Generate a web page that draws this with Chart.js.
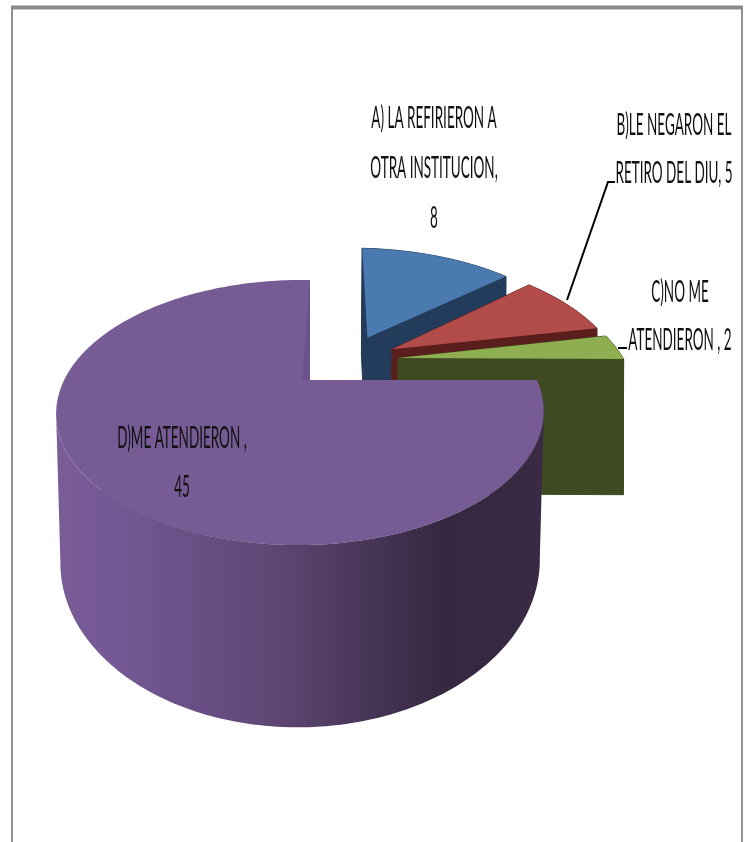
<!DOCTYPE html>
<html lang="es">
<head>
<meta charset="utf-8">
<title>Atención al retiro del DIU</title>
<script src="https://cdn.jsdelivr.net/npm/chart.js@4/dist/chart.umd.min.js"></script>
<style>
  html, body { margin: 0; padding: 0; background: #ffffff; }
  canvas { display: block; }
</style>
</head>
<body>
<canvas id="pieChart" width="750" height="842"></canvas>
<script>
// Chart data
const categories = [
  'A) LA REFIRIERON A OTRA INSTITUCION',
  'B)LE NEGARON EL RETIRO DEL DIU',
  'C)NO ME ATENDIERON ',
  'D)ME ATENDIERON '
];
const values = [8, 5, 2, 45];

// Slice colours
const topColors = ['#4a7ab0', '#b14c48', '#8fae52', '#775b94'];
const wallColors = ['#233c5c', '#5a1f1d', '#404a22', '#775b94'];

// How the words of each label are split over its rows
const rowWords = [[4, 2, 1], [3, 4], [2, 3], [3, 1]];

// Label placement: centre x and the baseline of each row
const labelBoxes = [
  { x: 434, rows: [128, 178, 228] },
  { x: 674, rows: [135, 183] },
  { x: 680, rows: [302, 350] },
  { x: 182, rows: [448, 497] }
];

// Leader lines for the two labels that need one
const leaders = [
  [[567, 300], [608, 182], [615, 182]],
  [[618, 348], [627, 348]]
];

// Perspective of the pie, in units of one radius from the purple slice's apex
const topPlane = { ox: 310, oy: 380, a: 236, b: 124.5, extra: 0 };
const bottomPlane = { ox: 310, oy: 521, a: 232, b: 155.6, extra: 0.025 };
const depthP = 0.245;
const depthQ = 0.04;
const explodeX = 0.23;
const explodeY = 0.23;
const explodedRadius = 1.07;
const explodedLean = 7.5;

function project(plane, s, x, y) {
  const w = 1 + depthP * y + depthQ * x;
  return [plane.ox + (plane.a * x + s.lean * y) / w, plane.oy - plane.b * y / w];
}

// Angles here are clockwise from 12 o'clock, as the arc elements start there
function sliceGeometry(el, index) {
  const props = el.getProps(['startAngle', 'endAngle'], true);
  const start = props.startAngle + Math.PI / 2;
  const end = props.endAngle + Math.PI / 2;
  const mid = (start + end) / 2;
  const last = index === values.length - 1;
  return {
    start: start,
    end: end,
    lean: last ? 0 : explodedLean,
    radius: last ? 1 : explodedRadius,
    cx: last ? 0 : explodeX * (Math.sin(mid) + Math.SQRT1_2),
    cy: last ? 0 : explodeY * (Math.cos(mid) + Math.SQRT1_2)
  };
}

function rimPoints(plane, s) {
  const pts = [];
  const radius = s.radius + (s.lean ? plane.extra : 0);
  const steps = Math.max(6, Math.ceil((s.end - s.start) / 0.02));
  for (let i = 0; i <= steps; i++) {
    const t = s.start + (s.end - s.start) * i / steps;
    pts.push(project(plane, s, s.cx + radius * Math.sin(t), s.cy + radius * Math.cos(t)));
  }
  return pts;
}

function fillPolygon(ctx, pts, fill) {
  ctx.beginPath();
  pts.forEach((p, i) => (i ? ctx.lineTo(p[0], p[1]) : ctx.moveTo(p[0], p[1])));
  ctx.closePath();
  ctx.fillStyle = fill;
  ctx.fill();
}

// Index of the rim point furthest along x, to the left or right
function extremeIndex(rim, sign) {
  let best = 0;
  rim.forEach((p, i) => {
    if (p[0] * sign > rim[best][0] * sign) best = i;
  });
  return best;
}

function drawSlice(ctx, el, index) {
  const s = sliceGeometry(el, index);
  const topRim = rimPoints(topPlane, s);
  const bottomRim = rimPoints(bottomPlane, s);
  const topApex = project(topPlane, s, s.cx, s.cy);
  const bottomApex = project(bottomPlane, s, s.cx, s.cy);
  const last = index === values.length - 1;

  if (last) {
    // The big slice has a shaded outer wall, only its front half shows
    const shade = ctx.createLinearGradient(60, 0, 541, 0);
    shade.addColorStop(0, '#7a5c97');
    shade.addColorStop(0.12, '#745893');
    shade.addColorStop(0.45, '#5e4674');
    shade.addColorStop(0.8, '#34273f');
    shade.addColorStop(1, '#3a2a45');
    const frontTop = topRim.slice(extremeIndex(topRim, 1), extremeIndex(topRim, -1) + 1);
    const frontBottom = bottomRim.slice(extremeIndex(bottomRim, 1), extremeIndex(bottomRim, -1) + 1);
    fillPolygon(ctx, frontTop.concat(frontBottom.reverse()), shade);
  } else {
    // Walls of the small slices are flat, the hairline closes the joins between faces
    const wall = wallColors[index];
    ctx.strokeStyle = wall;
    ctx.lineWidth = 1;
    fillPolygon(ctx, [topApex, topRim[0], bottomRim[0], bottomApex], wall);
    ctx.stroke();
    fillPolygon(ctx, topRim.concat(bottomRim.slice().reverse()), wall);
    ctx.stroke();
    fillPolygon(ctx, [topApex, topRim[topRim.length - 1], bottomRim[bottomRim.length - 1], bottomApex], wall);
    ctx.stroke();
  }

  fillPolygon(ctx, [topApex].concat(topRim), topColors[index]);

  if (last) {
    // Thin shadow where the top meets the wall, fading out on the right
    const rimShade = ctx.createLinearGradient(60, 0, 320, 0);
    rimShade.addColorStop(0, 'rgba(50, 35, 70, 0.4)');
    rimShade.addColorStop(1, 'rgba(50, 35, 70, 0.1)');
    ctx.strokeStyle = rimShade;
    ctx.lineWidth = 1;
    ctx.beginPath();
    topRim.forEach((p, i) => {
      if (i * 2 < topRim.length) ctx[i ? 'lineTo' : 'moveTo'](p[0], p[1]);
    });
    ctx.stroke();
    // Sliver of the inner wall seen along the notch
    const inner = project(topPlane, s, -0.033, 0);
    fillPolygon(ctx, [topRim[topRim.length - 1], topApex, inner], '#6c5289');
  }
}

function drawLabels(ctx) {
  ctx.fillStyle = '#111111';
  ctx.textAlign = 'center';
  ctx.textBaseline = 'alphabetic';
  ctx.font = '400 30px Lato, "Liberation Sans", sans-serif';
  categories.forEach((name, i) => {
    const words = (name + ', ' + values[i]).split(' ');
    let used = 0;
    rowWords[i].forEach((count, r) => {
      const text = words.slice(used, used + count).join(' ');
      used += count;
      // Narrow, tall lettering
      ctx.save();
      ctx.translate(labelBoxes[i].x, labelBoxes[i].rows[r]);
      ctx.scale(0.45, 1);
      ctx.fillText(text, 0, 0);
      ctx.restore();
    });
  });

  ctx.strokeStyle = '#000000';
  ctx.lineWidth = 2;
  leaders.forEach(line => {
    ctx.beginPath();
    line.forEach((p, i) => (i ? ctx.lineTo(p[0], p[1]) : ctx.moveTo(p[0], p[1])));
    ctx.stroke();
  });
}

function drawFrame(ctx) {
  ctx.fillStyle = '#c4c4c4';
  ctx.fillRect(11, 5, 732, 5);
  ctx.fillStyle = '#8a8a8a';
  ctx.fillRect(11, 6, 732, 3);
  ctx.fillStyle = '#919191';
  ctx.fillRect(11, 9, 2, 833);
  ctx.fillRect(741, 9, 2, 833);
}

// Replaces the flat arcs with the exploded, extruded slices
const pie3d = {
  id: 'pie3d',
  beforeDatasetDraw(chart, args) {
    const ctx = chart.ctx;
    const arcs = args.meta.data;
    drawFrame(ctx);
    arcs.forEach((el, i) => drawSlice(ctx, el, i));
    drawLabels(ctx);
    return false;
  }
};

new Chart(document.getElementById('pieChart'), {
  type: 'pie',
  data: {
    labels: categories,
    datasets: [{
      data: values,
      backgroundColor: topColors,
      borderWidth: 0
    }]
  },
  options: {
    responsive: false,
    animation: false,
    plugins: {
      legend: { display: false },
      tooltip: { enabled: false }
    }
  },
  plugins: [pie3d]
});
</script>
</body>
</html>
